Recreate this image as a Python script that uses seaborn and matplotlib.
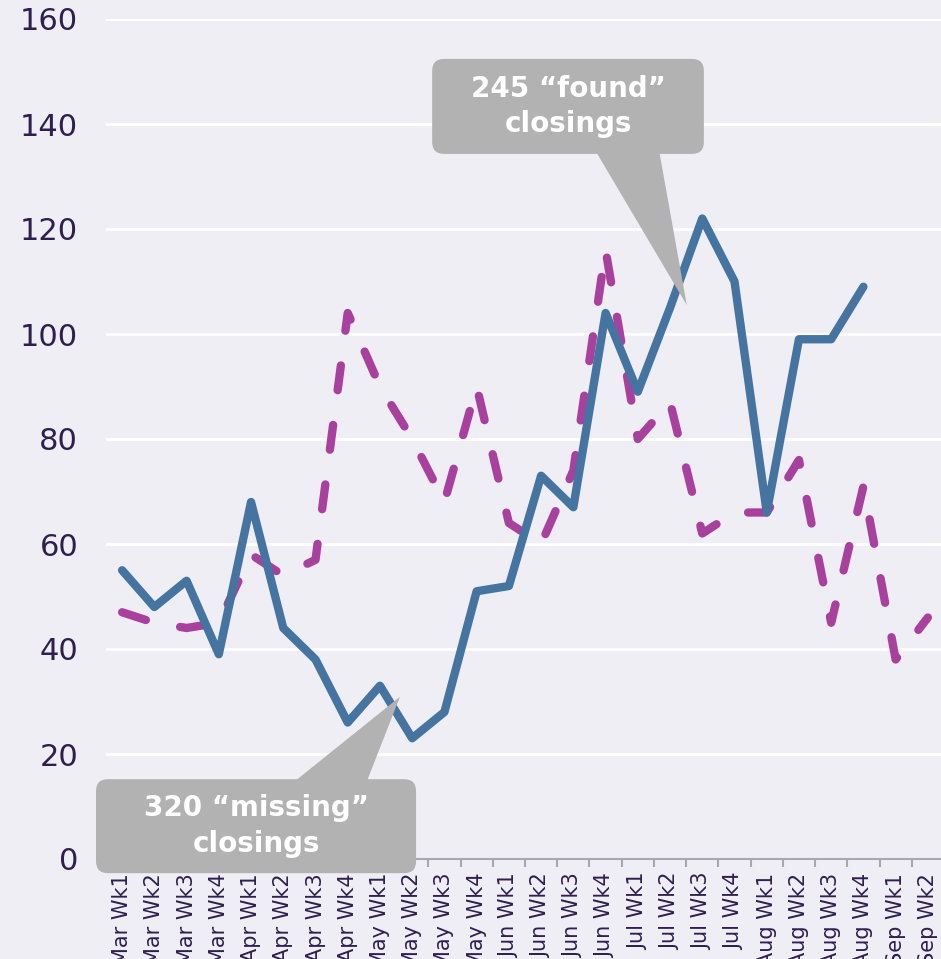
import numpy as np
import pandas as pd
import matplotlib
matplotlib.use("Agg")
import matplotlib.pyplot as plt
from matplotlib.patches import FancyBboxPatch, Polygon
import seaborn as sns

# weekly closings, Mar - Sep
weeks = ['Mar Wk1', 'Mar Wk2', 'Mar Wk3', 'Mar Wk4',
         'Apr Wk1', 'Apr Wk2', 'Apr Wk3', 'Apr Wk4',
         'May Wk1', 'May Wk2', 'May Wk3', 'May Wk4',
         'Jun Wk1', 'Jun Wk2', 'Jun Wk3', 'Jun Wk4',
         'Jul Wk1', 'Jul Wk2', 'Jul Wk3', 'Jul Wk4',
         'Aug Wk1', 'Aug Wk2', 'Aug Wk3', 'Aug Wk4',
         'Sep Wk1', 'Sep Wk2']
actual = [55, 48, 53, 39, 68, 44, 38, 26, 33, 23, 28, 51,
          52, 73, 67, 104, 89, 105, 122, 110, 66, 99, 99, 109,
          np.nan, np.nan]
expected = [47, 45, 44, 45, 58, 54, 57, 104, 90, 80, 68, 90,
            64, 60, 74, 116, 80, 87, 62, 66, 66, 76, 45, 71,
            38, 46]
y_ticks = [0, 20, 40, 60, 80, 100, 120, 140, 160]

found_text = '245 \u201cfound\u201d\nclosings'
missing_text = '320 \u201cmissing\u201d\nclosings'

df = pd.DataFrame({'week': weeks, 'actual': actual, 'expected': expected})

sns.set_theme(style="whitegrid")
plt.rcParams['font.family'] = ['DejaVu Sans']

bg = '#f0eef5'
txt = '#2e1f4f'
grey = '#b1b2b1'

fig = plt.figure(figsize=(9.41, 9.59), dpi=100, facecolor=bg)
ax = fig.add_axes([106 / 941, 100 / 959, 838 / 941, 840 / 959])
ax.set_facecolor(bg)

sns.lineplot(data=df, x='week', y='expected', ax=ax, sort=False,
             color='#a8419d', lw=6, linestyle=(0, (3, 4.2)),
             dash_capstyle='round', dash_joinstyle='round')
sns.lineplot(data=df, x='week', y='actual', ax=ax, sort=False,
             color='#44749f', lw=6, solid_capstyle='round',
             solid_joinstyle='round')

ax.set_xlim(-0.5, len(weeks) - 0.5)
ax.set_ylim(0, 160)
ax.set_xlabel('')
ax.set_ylabel('')

ax.set_yticks(y_ticks)
ax.set_yticklabels([str(v) for v in y_ticks])
ax.set_xticks(range(len(weeks)))
ax.set_xticklabels(weeks, rotation=90, va='top')
ax.set_xticks(np.arange(-0.5, len(weeks), 1), minor=True)

ax.yaxis.grid(True, color='white', lw=2)
ax.xaxis.grid(False)
ax.xaxis.grid(False, which='minor')
for s in ['top', 'right', 'left']:
    ax.spines[s].set_visible(False)
ax.spines['bottom'].set_color('#a9a6b3')
ax.spines['bottom'].set_linewidth(1.5)

ax.tick_params(axis='y', length=0, pad=20, labelsize=22, labelcolor=txt)
ax.tick_params(axis='x', which='major', length=0, pad=10, labelsize=15,
               labelcolor=txt)
ax.tick_params(axis='x', which='minor', bottom=True, length=6, width=1.5,
               color='#a9a6b3', direction='out')


def callout(x0, x1, y0, y1, tri, text):
    box = FancyBboxPatch((x0, y0), x1 - x0, y1 - y0,
                         boxstyle='round,pad=0,rounding_size=0.37',
                         mutation_aspect=6.14, fc=grey, ec='none',
                         zorder=5, clip_on=False)
    ax.add_patch(box)
    ax.add_patch(Polygon(tri, closed=True, fc=grey, ec='none', zorder=5,
                         clip_on=False))
    ax.text((x0 + x1) / 2, (y0 + y1) / 2, text, ha='center', va='center',
            color='white', fontsize=20, fontweight='bold', linespacing=1.35,
            zorder=6, clip_on=False)


callout(9.62, 18.05, 134.3, 152.4,
        [(14.58, 136), (16.63, 136), (17.52, 105.5)], found_text)
callout(-0.81, 9.12, -2.7, 15.2,
        [(4.99, 13), (7.48, 13), (8.62, 30.9)], missing_text)

fig.savefig('out.png', dpi=100, facecolor=bg)
